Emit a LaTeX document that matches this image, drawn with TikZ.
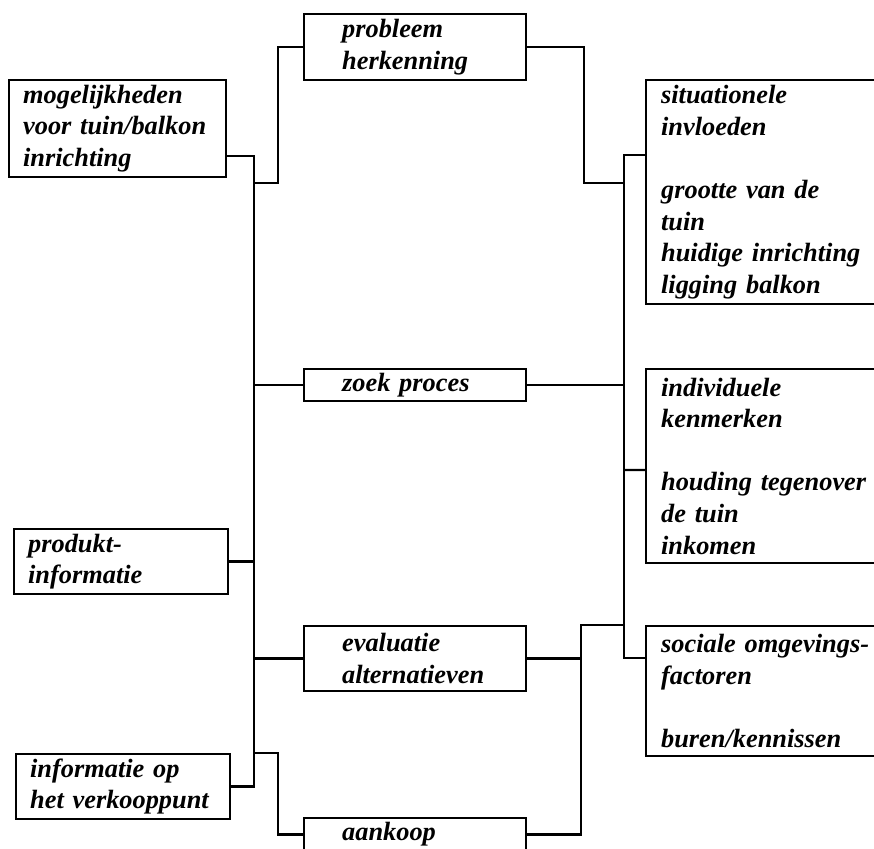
\documentclass[tikz,border=0pt]{standalone}
\usepackage{fontspec}
\setmainfont{Liberation Serif}[WordSpace=0.8]
\usepackage{tikz}
\hyphenpenalty=10000
\exhyphenpenalty=10000

\begin{document}
\begin{tikzpicture}[
  line width = 1.3pt,
  box/.style = {draw, line width = 1.3pt, anchor = north west, align = left, inner ysep = 0pt,
    font = \fontsize{15}{18}\selectfont\bfseries\itshape},
  lbox/.style = {box, inner xsep = 0.28cm, text width = 3.72cm, minimum height = 1.3cm},
  mbox/.style = {box, inner xsep = 0.76cm, text width = 2.92cm},
  rbox/.style = {box, inner xsep = 0.3cm, text width = 4.6cm}
]
\useasboundingbox (0,0) rectangle (17.48,-16.98);

\node [lbox, minimum height = 1.94cm, text width = 3.78cm] (mogelijk) at (0.16,-1.58) {mogelijkheden\\ voor tuin/balkon\\ inrichting};
\node [lbox] (produkt) at (0.26,-10.56) {produkt-\\ informatie};
\node [lbox] (verkoop) at (0.30,-15.06) {informatie op\\ het verkooppunt};

\node [mbox, minimum height = 1.32cm] (probleem) at (6.06,-0.26) {probleem\\ herkenning};
\node [mbox, minimum height = 0.64cm] (zoek) at (6.06,-7.36) {zoek proces};
\node [mbox, minimum height = 1.30cm] (evaluatie) at (6.06,-12.5) {evaluatie\\ alternatieven};
\node [mbox, minimum height = 0.66cm] (aankoop) at (6.06,-16.34) {aankoop};

\node [rbox, minimum height = 4.48cm] (situatie) at (12.9,-1.58) {situationele\\ invloeden\\[18pt] grootte van de\\ tuin\\ huidige inrichting\\ ligging balkon};
\node [rbox, minimum height = 3.88cm] (individu) at (12.9,-7.36) {individuele\\ kenmerken\\[18pt] houding tegenover\\ de tuin\\ inkomen};
\node [rbox, minimum height = 2.60cm] (sociaal) at (12.9,-12.5) {sociale omgevings-\\ factoren\\[18pt] buren/kennissen};

\coordinate (lbus) at (5.08,0);
\coordinate (rbus) at (12.48,0);

\draw ([yshift=0.44cm]mogelijk.south east) -| (lbus |- verkoop.east) -- (verkoop.east);
\draw (produkt.east) -- (lbus |- produkt.east);
\draw (probleem.west) -- ++(-0.5,0) |- (lbus |- 0,-3.66);
\draw (zoek.west) -- (lbus |- zoek.west);
\draw (evaluatie.west) -- (lbus |- evaluatie.west);
\draw (aankoop.west) -- ++(-0.5,0) |- (lbus |- verkoop.north);

\draw ([yshift=-1.52cm]situatie.north west) -| (rbus |- 0,-13.16) -- ([yshift=-0.66cm]sociaal.north west);
\draw ([yshift=-2.04cm]individu.north west) -- (rbus |- 0,-9.40);
\draw (probleem.east) -- ++(1.14,0) |- (rbus |- 0,-3.66);
\draw (zoek.east) -- (rbus |- zoek.east);
\draw (aankoop.east) -- ++(1.08,0) |- (rbus |- evaluatie.north);
\draw (evaluatie.east) -- ++(1.08,0);
\end{tikzpicture}
\end{document}
